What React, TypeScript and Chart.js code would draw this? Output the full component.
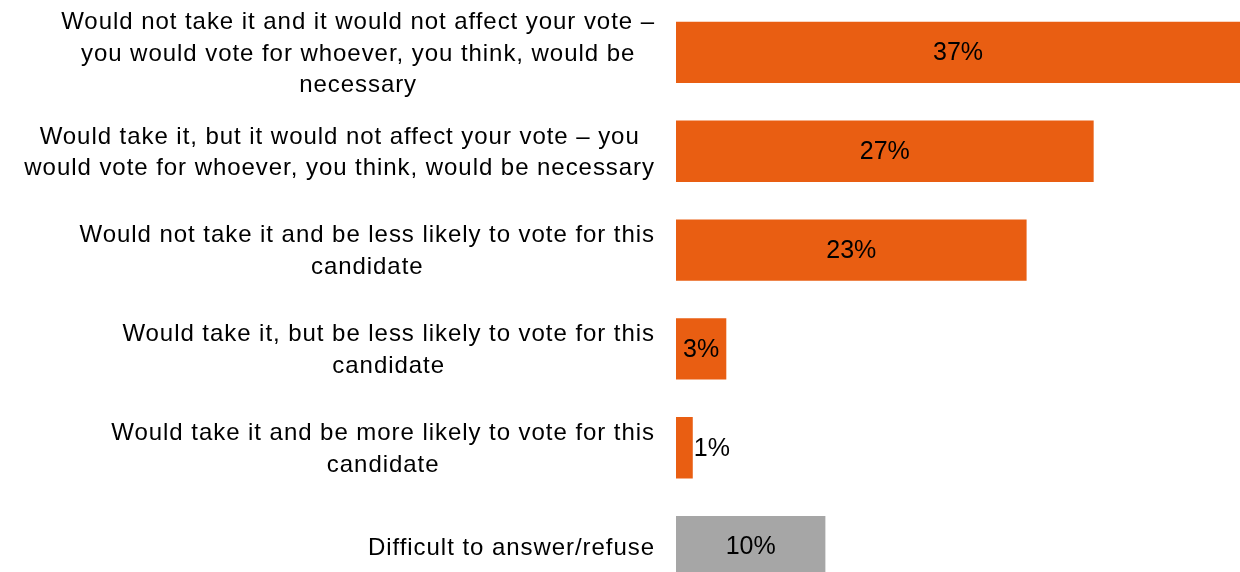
import React, { useEffect, useRef } from "react";
import { Chart, registerables } from "chart.js";

Chart.register(...registerables);

const categories: string[][] = [
  ["Would not take it and it would not affect your vote –", "you would vote for whoever, you think, would be", "necessary"],
  ["Would take it, but it would not affect your vote – you", "would vote for whoever, you think, would be necessary"],
  ["Would not take it and be less likely to vote for this", "candidate"],
  ["Would take it, but be less likely to vote for this", "candidate"],
  ["Would take it and be more likely to vote for this", "candidate"],
  ["Difficult to answer/refuse"],
];
const values: number[] = [37, 27.4, 23, 3.3, 1.1, 9.8];
const valueLabels: string[] = ["37%", "27%", "23%", "3%", "1%", "10%"];
const barColors: string[] = ["#E95E12", "#E95E12", "#E95E12", "#E95E12", "#E95E12", "#A6A6A6"];

const CAT_FONT = '24px "Liberation Sans", Arial, sans-serif';
const VAL_FONT = '25px "Liberation Sans", Arial, sans-serif';
const LINE_H = 31.5;
const LABEL_RIGHT = 655;

const labelPlugin = {
  id: "customLabels",
  afterDatasetsDraw(chart: any) {
    const ctx = chart.ctx;
    const yScale = chart.scales.y;
    ctx.save();
    ctx.fillStyle = "#000000";
    ctx.textBaseline = "middle";
    // category labels: block right-aligned, lines centred inside the block
    ctx.font = CAT_FONT;
    (ctx as any).letterSpacing = "0.95px";
    categories.forEach((lines, i) => {
      const cy = yScale.getPixelForValue(i) + 1.5;
      const widths = lines.map((l) => ctx.measureText(l).width);
      const w = Math.max(...widths);
      const cx = LABEL_RIGHT - w / 2;
      ctx.textAlign = "center";
      lines.forEach((l, j) => {
        const y = cy + (j - (lines.length - 1) / 2) * LINE_H;
        ctx.fillText(l, cx, y);
      });
    });
    // value labels
    (ctx as any).letterSpacing = "0px";
    ctx.font = VAL_FONT;
    const meta = chart.getDatasetMeta(0);
    meta.data.forEach((bar: any, i: number) => {
      const txt = valueLabels[i];
      const tw = ctx.measureText(txt).width;
      const left = Math.min(bar.base, bar.x);
      const width = Math.abs(bar.x - bar.base);
      if (width > tw + 4) {
        ctx.textAlign = "center";
        ctx.fillText(txt, left + width / 2, bar.y + 1);
      } else {
        ctx.textAlign = "left";
        ctx.fillText(txt, bar.x + 1, bar.y + 1);
      }
    });
    ctx.restore();
  },
};

export default function App() {
  const ref = useRef<HTMLCanvasElement | null>(null);
  useEffect(() => {
    if (!ref.current) return;
    const chart = new Chart(ref.current, {
      type: "bar",
      data: {
        labels: categories.map((c) => c.join(" ")),
        datasets: [
          {
            data: values,
            backgroundColor: barColors,
            borderWidth: 0,
            categoryPercentage: 1,
            barPercentage: 0.62,
          },
        ],
      },
      options: {
        indexAxis: "y",
        animation: false,
        responsive: false,
        maintainAspectRatio: false,
        layout: { padding: { left: 676, right: 0, top: 3, bottom: 4 } },
        plugins: { legend: { display: false }, tooltip: { enabled: false } },
        scales: {
          x: { display: false, min: 0, max: 37 },
          y: { display: false },
        },
      },
      plugins: [labelPlugin],
    });
    return () => chart.destroy();
  }, []);
  return (
    <div style={{ position: "absolute", left: 0, top: 0, width: 1240, height: 572, overflow: "hidden", background: "#fff" }}>
      <canvas ref={ref} width={1240} height={600} style={{ display: "block" }} />
    </div>
  );
}
